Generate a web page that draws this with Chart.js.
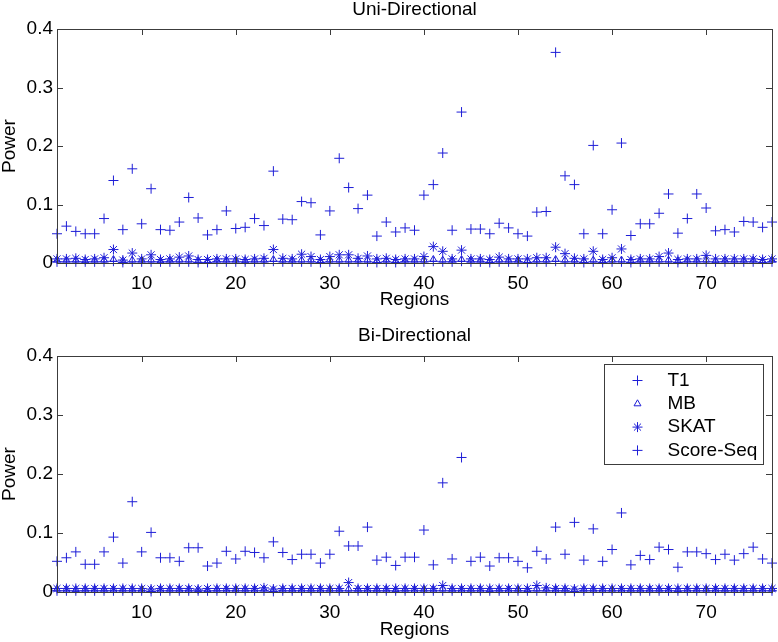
<!DOCTYPE html>
<html>
<head>
<meta charset="utf-8">
<script src="https://cdn.jsdelivr.net/npm/chart.js@4/dist/chart.umd.min.js"></script>
<style>
  html, body { margin: 0; padding: 0; background: #fff; }
  #wrap { position: relative; width: 778px; height: 642px; }
  canvas { position: absolute; left: 0; }
  #uni { top: 0; }
  #bi { top: 321px; }
</style>
</head>
<body>
<div id="wrap">
  <canvas id="uni" width="778" height="321"></canvas>
  <canvas id="bi" width="778" height="321"></canvas>
</div>
<script>
// regions 1..77
const regions = Array.from({ length: 77 }, (_, i) => i + 1);
const seriesNames = ["T1", "MB", "SKAT", "Score-Seq"];
const xTicks = [10, 20, 30, 40, 50, 60, 70];
const yTicks = [0, 0.1, 0.2, 0.3, 0.4];

// Uni-Directional
const uniT1 = [
  0.050, 0.063, 0.054, 0.050, 0.050, 0.076, 0.141, 0.057, 0.161, 0.067,
  0.127, 0.057, 0.056, 0.070, 0.112, 0.077, 0.048, 0.057, 0.089, 0.059,
  0.061, 0.076, 0.064, 0.157, 0.075, 0.074, 0.105, 0.103, 0.048, 0.089,
  0.179, 0.129, 0.093, 0.116, 0.046, 0.070, 0.053, 0.060, 0.056, 0.116,
  0.134, 0.188, 0.056, 0.258, 0.058, 0.058, 0.050, 0.068, 0.060, 0.050,
  0.046, 0.087, 0.088, 0.360, 0.149, 0.134, 0.050, 0.201, 0.050, 0.091,
  0.205, 0.047, 0.067, 0.067, 0.085, 0.118, 0.051, 0.076, 0.118, 0.094,
  0.055, 0.057, 0.053, 0.071, 0.070, 0.061, 0.070
];
const uniMB = [
  0.005, 0.005, 0.005, 0.004, 0.005, 0.005, 0.006, 0.004, 0.005, 0.005,
  0.005, 0.004, 0.005, 0.005, 0.005, 0.004, 0.004, 0.005, 0.005, 0.005,
  0.004, 0.005, 0.005, 0.006, 0.005, 0.005, 0.005, 0.005, 0.004, 0.005,
  0.005, 0.005, 0.005, 0.005, 0.004, 0.005, 0.004, 0.005, 0.005, 0.005,
  0.006, 0.005, 0.005, 0.006, 0.005, 0.005, 0.004, 0.005, 0.005, 0.005,
  0.004, 0.005, 0.005, 0.006, 0.005, 0.005, 0.004, 0.005, 0.004, 0.005,
  0.005, 0.004, 0.005, 0.005, 0.005, 0.005, 0.004, 0.005, 0.005, 0.005,
  0.004, 0.005, 0.005, 0.005, 0.005, 0.004, 0.005
];
const uniSKAT = [
  0.007, 0.007, 0.008, 0.006, 0.007, 0.009, 0.023, 0.005, 0.017, 0.007,
  0.014, 0.006, 0.007, 0.010, 0.012, 0.006, 0.006, 0.007, 0.007, 0.007,
  0.006, 0.007, 0.008, 0.023, 0.008, 0.007, 0.015, 0.011, 0.006, 0.011,
  0.014, 0.014, 0.008, 0.012, 0.007, 0.008, 0.006, 0.007, 0.007, 0.011,
  0.028, 0.020, 0.007, 0.022, 0.007, 0.007, 0.006, 0.010, 0.007, 0.007,
  0.007, 0.009, 0.009, 0.027, 0.016, 0.008, 0.007, 0.020, 0.006, 0.009,
  0.024, 0.006, 0.007, 0.007, 0.011, 0.017, 0.006, 0.007, 0.007, 0.013,
  0.007, 0.007, 0.007, 0.007, 0.007, 0.006, 0.007
];
const uniScoreSeq = [
  0.002, 0.002, 0.002, 0.002, 0.002, 0.002, 0.003, 0.001, 0.002, 0.002,
  0.002, 0.002, 0.002, 0.002, 0.002, 0.001, 0.001, 0.002, 0.002, 0.002,
  0.002, 0.002, 0.002, 0.003, 0.002, 0.002, 0.002, 0.002, 0.001, 0.002,
  0.002, 0.002, 0.002, 0.002, 0.001, 0.002, 0.001, 0.002, 0.002, 0.002,
  0.003, 0.002, 0.002, 0.003, 0.002, 0.002, 0.001, 0.002, 0.002, 0.002,
  0.001, 0.002, 0.002, 0.003, 0.002, 0.002, 0.001, 0.002, 0.001, 0.002,
  0.002, 0.001, 0.002, 0.002, 0.002, 0.002, 0.001, 0.002, 0.002, 0.002,
  0.002, 0.002, 0.002, 0.002, 0.002, 0.001, 0.002
];

// Bi-Directional
const biT1 = [
  0.052, 0.058, 0.068, 0.047, 0.047, 0.068, 0.093, 0.049, 0.153, 0.068,
  0.101, 0.058, 0.058, 0.052, 0.075, 0.075, 0.044, 0.049, 0.069, 0.056,
  0.069, 0.067, 0.058, 0.085, 0.067, 0.055, 0.064, 0.064, 0.049, 0.064,
  0.103, 0.078, 0.078, 0.110, 0.054, 0.059, 0.045, 0.059, 0.059, 0.105,
  0.046, 0.185, 0.056, 0.228, 0.052, 0.059, 0.044, 0.058, 0.058, 0.052,
  0.041, 0.069, 0.056, 0.110, 0.064, 0.118, 0.054, 0.107, 0.052, 0.072,
  0.134, 0.046, 0.062, 0.055, 0.076, 0.072, 0.042, 0.068, 0.068, 0.065,
  0.055, 0.064, 0.054, 0.065, 0.076, 0.056, 0.049
];
const biMB = [
  0.005, 0.005, 0.004, 0.005, 0.005, 0.005, 0.005, 0.005, 0.005, 0.005,
  0.004, 0.005, 0.005, 0.005, 0.005, 0.004, 0.004, 0.005, 0.005, 0.005,
  0.005, 0.005, 0.005, 0.004, 0.005, 0.005, 0.005, 0.005, 0.005, 0.005,
  0.005, 0.005, 0.005, 0.005, 0.005, 0.005, 0.004, 0.005, 0.005, 0.005,
  0.005, 0.005, 0.005, 0.005, 0.005, 0.005, 0.004, 0.005, 0.005, 0.005,
  0.004, 0.005, 0.005, 0.005, 0.005, 0.004, 0.005, 0.005, 0.005, 0.005,
  0.005, 0.005, 0.005, 0.005, 0.005, 0.005, 0.004, 0.005, 0.005, 0.005,
  0.005, 0.005, 0.005, 0.005, 0.005, 0.005, 0.005
];
const biSKAT = [
  0.006, 0.006, 0.006, 0.006, 0.006, 0.006, 0.006, 0.006, 0.006, 0.006,
  0.005, 0.006, 0.006, 0.006, 0.006, 0.005, 0.006, 0.006, 0.006, 0.006,
  0.006, 0.006, 0.007, 0.005, 0.006, 0.006, 0.006, 0.006, 0.006, 0.006,
  0.006, 0.016, 0.006, 0.006, 0.006, 0.006, 0.006, 0.006, 0.006, 0.006,
  0.006, 0.011, 0.006, 0.006, 0.006, 0.006, 0.006, 0.006, 0.006, 0.006,
  0.006, 0.011, 0.007, 0.006, 0.006, 0.005, 0.006, 0.006, 0.006, 0.006,
  0.006, 0.006, 0.006, 0.006, 0.006, 0.006, 0.006, 0.006, 0.006, 0.006,
  0.006, 0.006, 0.006, 0.006, 0.006, 0.006, 0.006
];
const biScoreSeq = [
  0.002, 0.002, 0.002, 0.002, 0.002, 0.002, 0.002, 0.002, 0.002, 0.002,
  0.001, 0.002, 0.002, 0.002, 0.002, 0.002, 0.002, 0.002, 0.002, 0.002,
  0.002, 0.002, 0.002, 0.001, 0.002, 0.002, 0.002, 0.002, 0.002, 0.002,
  0.002, 0.002, 0.002, 0.002, 0.002, 0.002, 0.002, 0.002, 0.002, 0.002,
  0.002, 0.002, 0.002, 0.002, 0.002, 0.002, 0.002, 0.002, 0.002, 0.002,
  0.002, 0.002, 0.002, 0.002, 0.002, 0.001, 0.002, 0.002, 0.002, 0.002,
  0.002, 0.002, 0.002, 0.002, 0.002, 0.002, 0.002, 0.002, 0.002, 0.002,
  0.002, 0.002, 0.002, 0.002, 0.002, 0.002, 0.002
];

const blue = "rgb(30, 30, 215)";
const axisColor = "#3c3c3c";
const fontFamily = "'Liberation Sans', Arial, Helvetica, sans-serif";
const styles = [
  { pointStyle: "cross", radius: 5 },
  { pointStyle: "triangle", radius: 4 },
  { pointStyle: "star", radius: 5 },
  { pointStyle: "cross", radius: 5 }
];

function makeDatasets(lists) {
  return lists.map((vals, k) => ({
    label: seriesNames[k],
    data: regions.map((r, i) => ({ x: r, y: vals[i] })),
    pointStyle: styles[k].pointStyle,
    pointRadius: styles[k].radius,
    pointHoverRadius: styles[k].radius,
    borderColor: blue,
    backgroundColor: "rgba(0,0,0,0)",
    pointBorderWidth: 1,
    showLine: false,
    clip: false
  }));
}

// box and inward tick marks like MATLAB axes
const boxPlugin = {
  id: "box",
  afterDatasetsDraw(chart) {
    const { ctx, chartArea: a, scales } = chart;
    const tl = 6;
    ctx.save();
    ctx.strokeStyle = axisColor;
    ctx.lineWidth = 1;
    ctx.beginPath();
    xTicks.forEach(v => {
      const px = Math.round(scales.x.getPixelForValue(v)) + 0.5;
      ctx.moveTo(px, a.bottom); ctx.lineTo(px, a.bottom - tl);
      ctx.moveTo(px, a.top); ctx.lineTo(px, a.top + tl);
    });
    yTicks.forEach(v => {
      const py = Math.round(scales.y.getPixelForValue(v)) + 0.5;
      ctx.moveTo(a.left, py); ctx.lineTo(a.left + tl, py);
      ctx.moveTo(a.right, py); ctx.lineTo(a.right - tl, py);
    });
    ctx.stroke();
    ctx.strokeRect(Math.round(a.left) + 0.5, Math.round(a.top) + 0.5,
      Math.round(a.right - a.left), Math.round(a.bottom - a.top));
    ctx.restore();
  }
};

// legend drawn inside the plot, upper right
const legendPlugin = {
  id: "innerLegend",
  afterDraw(chart) {
    const { ctx, chartArea: a } = chart;
    const w = 159, h = 100;
    const x0 = Math.round(a.right - 9 - w) + 0.5;
    const y0 = Math.round(a.top + 8) + 0.5;
    ctx.save();
    ctx.fillStyle = "#fff";
    ctx.fillRect(x0, y0, w, h);
    ctx.strokeStyle = axisColor;
    ctx.lineWidth = 1;
    ctx.strokeRect(x0, y0, w, h);
    chart.data.datasets.forEach((ds, k) => {
      const cy = y0 + 16 + k * 23.3;
      const cx = x0 + 33;
      ctx.strokeStyle = blue;
      ctx.fillStyle = "rgba(0,0,0,0)";
      ctx.lineWidth = 1;
      Chart.helpers.drawPoint(ctx, { pointStyle: ds.pointStyle, radius: ds.pointRadius, rotation: 0, borderWidth: 1 }, cx, cy);
      ctx.fillStyle = "#000";
      ctx.font = "19px " + fontFamily;
      ctx.textBaseline = "middle";
      ctx.textAlign = "left";
      ctx.fillText(ds.label, x0 + 63, cy);
    });
    ctx.restore();
  }
};

function makeChart(id, title, lists, withLegend, titlePad, xHeight, xTitlePad) {
  const plugins = [boxPlugin];
  if (withLegend) plugins.push(legendPlugin);
  return new Chart(document.getElementById(id), {
    type: "scatter",
    data: { datasets: makeDatasets(lists) },
    options: {
      responsive: false,
      devicePixelRatio: 1,
      animation: false,
      events: [],
      layout: { padding: { left: 0, right: 6, top: 0, bottom: 0 } },
      plugins: {
        legend: { display: false },
        tooltip: { enabled: false },
        title: {
          display: true,
          fullSize: false,
          text: title,
          color: "#000",
          font: { family: fontFamily, size: 19, weight: "normal", lineHeight: 1 },
          padding: titlePad
        }
      },
      scales: {
        x: {
          type: "linear",
          min: 1,
          max: 77,
          afterBuildTicks: s => { s.ticks = xTicks.map(v => ({ value: v })); },
          afterFit: s => { s.height = xHeight; },
          grid: { display: false, drawTicks: false },
          border: { display: false },
          ticks: {
            color: "#000",
            padding: 9,
            font: { family: fontFamily, size: 19 },
            maxRotation: 0,
            autoSkip: false
          },
          title: {
            display: true,
            text: "Regions",
            color: "#000",
            font: { family: fontFamily, size: 19, lineHeight: 1.2 },
            padding: { top: 0, bottom: xTitlePad }
          }
        },
        y: {
          min: 0,
          max: 0.4,
          afterBuildTicks: s => { s.ticks = yTicks.map(v => ({ value: v })); },
          afterFit: s => { s.width = 57; },
          grid: { display: false, drawTicks: false },
          border: { display: false },
          ticks: {
            color: "#000",
            padding: 4,
            font: { family: fontFamily, size: 19 },
            callback: v => (v === 0 ? "0" : String(Math.round(v * 10) / 10))
          },
          title: {
            display: true,
            text: "Power",
            color: "#000",
            font: { family: fontFamily, size: 19, lineHeight: 1 },
            padding: { top: 0, bottom: 0 }
          }
        }
      }
    },
    plugins: plugins
  });
}

makeChart("uni", "Uni-Directional", [uniT1, uniMB, uniSKAT, uniScoreSeq], false,
  { top: 0, bottom: 10 }, 58, 10);
makeChart("bi", "Bi-Directional", [biT1, biMB, biSKAT, biScoreSeq], true,
  { top: 5, bottom: 11 }, 50, 1);
</script>
</body>
</html>
